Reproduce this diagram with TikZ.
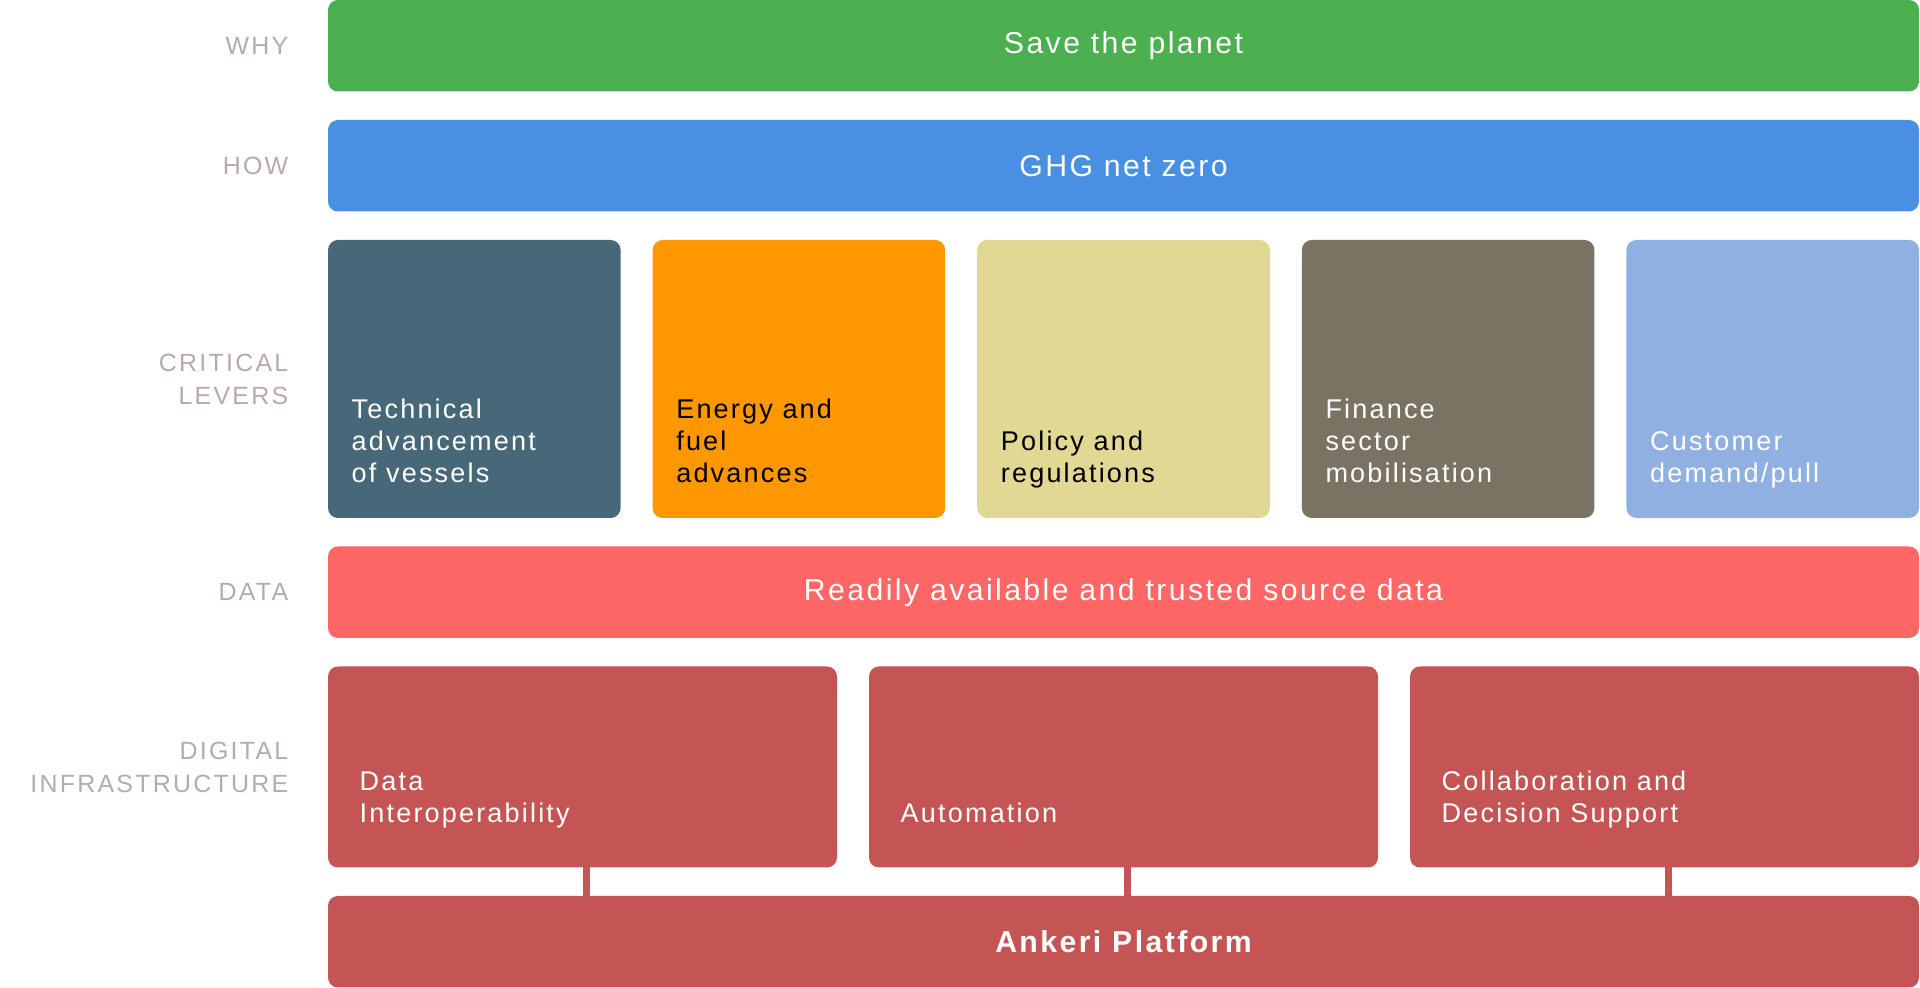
\documentclass[tikz,border=0pt]{standalone}
\usepackage{fontspec}
\usetikzlibrary{positioning}
\setmainfont{Liberation Sans}
\newfontfamily\barfam[LetterSpace=8]{Liberation Sans}
\newfontfamily\lblfam[LetterSpace=9]{Liberation Sans}
\newcommand{\barfont}{\barfam\fontsize{8.6}{10}\selectfont}
\newcommand{\boxfont}{\barfam\fontsize{7.7}{9.1}\selectfont}
\newcommand{\lblfont}{\lblfam\fontsize{7.1}{9.4}\selectfont}

\definecolor{whygreen}{HTML}{4CAF50}
\definecolor{howblue}{HTML}{4A90E2}
\definecolor{techslate}{HTML}{476878}
\definecolor{fuelorange}{HTML}{FF9800}
\definecolor{policyyellow}{HTML}{E1D993}
\definecolor{financetaupe}{HTML}{7A7262}
\definecolor{customerblue}{HTML}{8FB0E0}
\definecolor{datacoral}{HTML}{FF6666}
\definecolor{infrared}{HTML}{C55555}
\definecolor{lblgrey}{HTML}{B8AAAA}

\begin{document}
\begin{tikzpicture}[node distance=2.85mm,
    bar/.style={rectangle, rounded corners=1mm, minimum width=159.1mm, minimum height=9.15mm, inner sep=0pt, outer sep=0pt, font=\barfont, text=white},
    lever/.style={rectangle, rounded corners=1mm, minimum width=29.26mm, minimum height=27.8mm, inner sep=0pt, outer sep=0pt},
    infra/.style={rectangle, rounded corners=1mm, fill=infrared, minimum width=50.9mm, minimum height=20.1mm, inner sep=0pt, outer sep=0pt},
    boxtext/.style={anchor=south west, align=left, inner sep=0pt, font=\boxfont, text=white},
    rowlabel/.style={align=right, inner sep=0pt, font=\lblfont, text=lblgrey},
    link/.style={draw=infrared, line width=2.2pt}]
    \useasboundingbox (0,0) rectangle (19.2,9.88);

    % why and how
    \node (why) [bar, fill=whygreen, anchor=north west] at (3.28,9.88) {Save the planet};
    \node (how) [bar, fill=howblue, below=of why] {GHG net zero};

    % critical levers
    \node (tech) [lever, fill=techslate, below=of how.south west, anchor=north west] {};
    \node (fuel) [lever, fill=fuelorange, right=3.2mm of tech] {};
    \node (policy) [lever, fill=policyyellow, right=3.2mm of fuel] {};
    \node (finance) [lever, fill=financetaupe, right=3.2mm of policy] {};
    \node (customer) [lever, fill=customerblue, right=3.2mm of finance] {};

    \node (techtxt) [boxtext] at ([shift={(2.3mm,2.5mm)}]tech.south west) {Technical\\advancement\\of vessels\strut};
    \node (fueltxt) [boxtext, text=black] at ([shift={(2.3mm,2.5mm)}]fuel.south west) {Energy and\\fuel\\advances\strut};
    \node (policytxt) [boxtext, text=black] at ([shift={(2.3mm,2.5mm)}]policy.south west) {Policy and\\regulations\strut};
    \node (financetxt) [boxtext] at ([shift={(2.3mm,2.5mm)}]finance.south west) {Finance\\sector\\mobilisation\strut};
    \node (customertxt) [boxtext] at ([shift={(2.3mm,2.5mm)}]customer.south west) {Customer\\demand/pull\strut};

    % data
    \node (data) [bar, fill=datacoral, below=of tech.south west, anchor=north west] {Readily available and trusted source data};

    % digital infrastructure
    \node (dataint) [infra, below=of data.south west, anchor=north west] {};
    \node (autom) [infra, right=3.2mm of dataint] {};
    \node (collab) [infra, right=3.2mm of autom] {};

    \node (datainttxt) [boxtext] at ([shift={(3.1mm,3.5mm)}]dataint.south west) {Data\\Interoperability\strut};
    \node (automtxt) [boxtext] at ([shift={(3.1mm,3.5mm)}]autom.south west) {Automation\strut};
    \node (collabtxt) [boxtext] at ([shift={(3.1mm,3.5mm)}]collab.south west) {Collaboration and\\Decision Support\strut};

    \node (ankeri) [bar, fill=infrared, font=\barfont\bfseries, below=of dataint.south west, anchor=north west] {Ankeri Platform};

    \draw[link] ([xshift=0.4mm]dataint.south) -- ([xshift=0.4mm]dataint.south |- ankeri.north);
    \draw[link] ([xshift=0.4mm]autom.south) -- ([xshift=0.4mm]autom.south |- ankeri.north);
    \draw[link] ([xshift=0.4mm]collab.south) -- ([xshift=0.4mm]collab.south |- ankeri.north);

    % row labels
    \node (whylbl) [rowlabel, left=3.9mm of why] {WHY};
    \node (howlbl) [rowlabel, left=3.9mm of how] {HOW};
    \node (leverlbl) [rowlabel, left=3.9mm of tech] {CRITICAL\\LEVERS};
    \node (datalbl) [rowlabel, left=3.9mm of data] {DATA};
    \node (infralbl) [rowlabel, left=3.9mm of dataint] {DIGITAL\\INFRASTRUCTURE};
\end{tikzpicture}
\end{document}
